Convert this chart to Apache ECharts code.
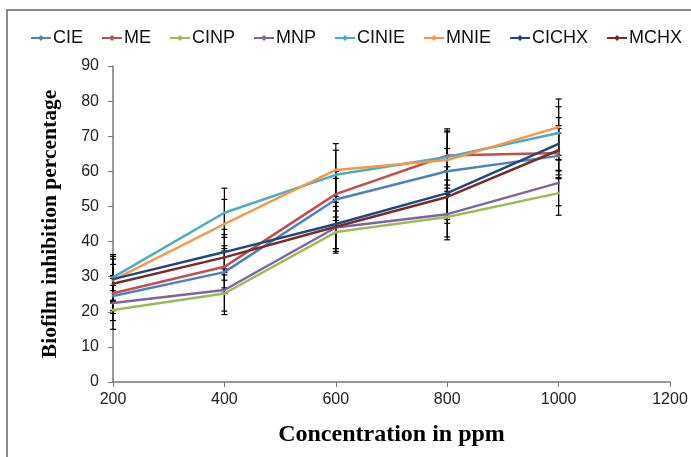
<!DOCTYPE html>
<html><head><meta charset="utf-8">
<script src="https://cdn.jsdelivr.net/npm/echarts@6/dist/echarts.min.js"></script>
<style>html,body{margin:0;padding:0;background:#fff}#c{width:691px;height:457px}</style>
</head><body><div id="c"></div>
<script>
var concentrations = [200, 400, 600, 800, 1000];
var seriesNames = ['CIE','ME','CINP','MNP','CINIE','MNIE','CICHX','MCHX'];
var CIE   = [24.5, 31.3, 52.0, 60.0, 64.4];
var ME    = [25.3, 32.8, 53.5, 64.5, 65.2];
var CINP  = [20.5, 25.2, 42.7, 47.0, 53.8];
var MNP   = [22.5, 26.2, 44.0, 47.8, 56.7];
var CINIE = [29.8, 48.2, 59.0, 64.1, 70.9];
var MNIE  = [29.0, 45.0, 60.4, 63.2, 72.6];
var CICHX = [29.3, 37.0, 45.0, 53.8, 67.8];
var MCHX  = [28.0, 35.5, 44.2, 52.7, 66.0];
var errCIE   = [5, 6, 6, 6.5, 6.5];
var errME    = [5, 6, 6.5, 7, 7];
var errCINP  = [5.5, 6, 6, 6.5, 6.3];
var errMNP   = [5, 6, 6, 6.5, 6.5];
var errCINIE = [6.5, 7, 7, 8, 7.5];
var errMNIE  = [6, 7, 7.5, 8, 8];
var errCICHX = [6.5, 6.5, 7, 7.5, 7.5];
var errMCHX  = [5.5, 6.5, 7, 7.5, 7];
var colors = ['#4F81BD','#C0504D','#9BBB59','#8064A2','#4BACC6','#F79646','#1F497D','#772C2A'];
var values = [CIE, ME, CINP, MNP, CINIE, MNIE, CICHX, MCHX];
var errors = [errCIE, errME, errCINP, errMNP, errCINIE, errMNIE, errCICHX, errMCHX];

var series = [];
seriesNames.forEach(function(n, i){
  series.push({
    name: n, type: 'line', data: concentrations.map(function(c, k){ return [c, values[i][k]]; }),
    symbol: 'circle', symbolSize: 3, showSymbol: true,
    lineStyle: {width: 2.5, color: colors[i]}, itemStyle: {color: colors[i]},
    z: 3
  });
});
seriesNames.forEach(function(n, i){
  series.push({
    type: 'custom', z: 2,
    data: concentrations.map(function(c, k){ return [c, values[i][k] - errors[i][k], values[i][k] + errors[i][k]]; }),
    renderItem: function(params, api){
      var lo = api.coord([api.value(0), api.value(1)]);
      var hi = api.coord([api.value(0), api.value(2)]);
      var w = 3;
      var st = {stroke: '#000', lineWidth: 1.2};
      return {type: 'group', children: [
        {type: 'line', shape: {x1: lo[0], y1: lo[1], x2: hi[0], y2: hi[1]}, style: st},
        {type: 'line', shape: {x1: lo[0]-w, y1: lo[1], x2: lo[0]+w, y2: lo[1]}, style: st},
        {type: 'line', shape: {x1: hi[0]-w, y1: hi[1], x2: hi[0]+w, y2: hi[1]}, style: st}
      ]};
    }
  });
});

var chart = echarts.init(document.getElementById('c'), null, {renderer: 'canvas'});
chart.setOption({
  animation: false,
  backgroundColor: '#fff',
  graphic: [{type: 'rect', shape: {x: 7, y: 10, width: 700, height: 470}, style: {fill: 'none', stroke: '#666', lineWidth: 1.5}, silent: true}],
  legend: {
    data: seriesNames.map(function(n, i){ return {name: n, icon: 'path://M0,4 L8,4 L10,2 L12,4 L20,4 L20,6 L12,6 L10,8 L8,6 L0,6 Z'}; }),
    left: 26, top: 24, itemWidth: 20, itemHeight: 6, itemGap: 19,
    textStyle: {fontFamily: 'Liberation Sans', fontSize: 18, color: '#111', padding: [0,0,0,-3]}
  },
  grid: {left: 113, right: 21, top: 66, bottom: 75},
  xAxis: {
    type: 'value', min: 200, max: 1200, interval: 200,
    name: 'Concentration in ppm', nameLocation: 'middle', nameGap: 41,
    nameTextStyle: {fontFamily: 'Liberation Serif', fontWeight: 'bold', fontSize: 24, color: '#000'},
    axisLine: {lineStyle: {color: '#777', width: 1.5}},
    axisTick: {show: true, length: 5, lineStyle: {color: '#777'}},
    axisLabel: {fontFamily: 'Liberation Sans', fontSize: 16, color: '#222', margin: 10, formatter: function(v){ return String(v); }},
    splitLine: {show: false}
  },
  yAxis: {
    type: 'value', min: 0, max: 90, interval: 10,
    name: 'Biofilm inhibition percentage', nameLocation: 'middle', nameGap: 52,
    nameTextStyle: {fontFamily: 'Liberation Serif', fontWeight: 'bold', fontSize: 21.5, color: '#000'},
    axisLine: {show: true, lineStyle: {color: '#777', width: 1.5}},
    axisTick: {show: true, length: 5, lineStyle: {color: '#777'}},
    axisLabel: {fontFamily: 'Liberation Sans', fontSize: 16, color: '#222', margin: 14},
    splitLine: {show: false}
  },
  series: series
});
</script></body></html>
